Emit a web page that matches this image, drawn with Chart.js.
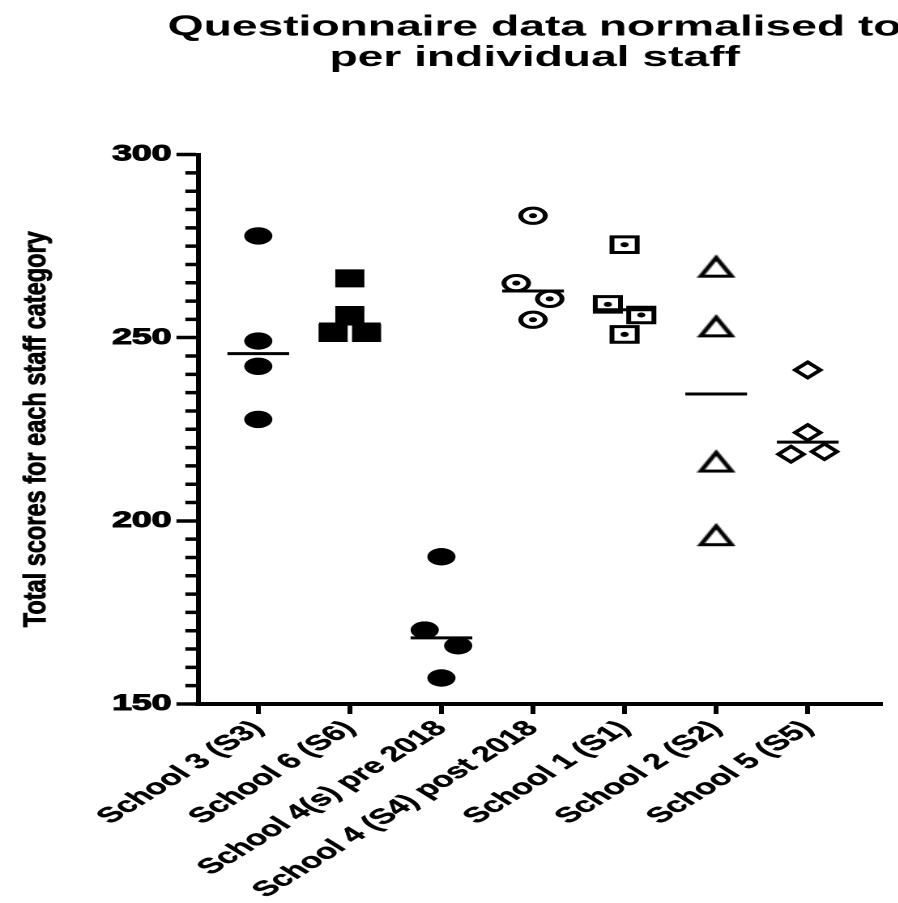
<!DOCTYPE html>
<html>
<head>
<meta charset="utf-8">
<script src="https://cdn.jsdelivr.net/npm/chart.js@4/dist/chart.umd.min.js"></script>
<style>
  html, body { margin: 0; padding: 0; background: #fff; overflow: hidden; width: 898px; height: 903px; }
  /* the plot is laid out narrow and widened horizontally */
  #wrap { position: absolute; left: 0; top: 0; width: 560px; height: 903px;
          transform: scaleX(1.62); transform-origin: 0 0; }
</style>
</head>
<body>
<div id="wrap"><canvas id="c"></canvas></div>
<script>
// ---- data ----
const categories = ['School 3 (S3)', 'School 6 (S6)', 'School 4(s) pre 2018',
  'School 4 (S4) post 2018', 'School 1 (S1)', 'School 2 (S2)', 'School 5 (S5)'];
const school3 = [277.8, 249.1, 242.2, 227.7];
const school6 = [266.2, 256.2, 251.3, 251.3];
const school4Pre = [190.2, 170.2, 165.9, 157.1];
const school4Post = [283.3, 264.9, 260.6, 254.9];
const school1 = [275.4, 259.1, 256.2, 250.9];
const school2 = [269.4, 253.1, 216.2, 196.1];
const school5 = [241.2, 224.1, 218.2, 218.9];
const titleLines = ['Questionnaire data normalised to', 'per individual staff'];
const yAxisTitle = 'Total scores for each staff category';
const yMin = 150, yMax = 300, majorStep = 50, minorStep = 5;

const STRETCH = 1.62;          // horizontal widening applied by CSS
const TITLE_CENTER = 330;      // horizontal centre of the title block
const FONT = "'Liberation Sans', Arial, sans-serif";

// ---- helpers ----
function median(vals) {
  const s = [...vals].sort((a, b) => a - b);
  const m = s.length / 2;
  return s.length % 2 ? s[Math.floor(m)] : (s[m - 1] + s[m]) / 2;
}
// spread points that would overlap side by side (column scatter)
function columnPoints(vals, idx) {
  const order = vals.map((v, i) => i).sort((a, b) => vals[b] - vals[a]);
  const groups = [];
  order.forEach(i => {
    const g = groups[groups.length - 1];
    if (g && Math.abs(vals[g[g.length - 1]] - vals[i]) < 4.5) g.push(i);
    else groups.push([i]);
  });
  const pts = [];
  const gap = 0.365;
  groups.forEach(g => {
    g.sort((a, b) => a - b);
    g.forEach((i, k) => pts.push({ x: idx + (k - (g.length - 1) / 2) * gap, y: vals[i] }));
  });
  return pts;
}
function medianLine(vals, idx) {
  const m = median(vals);
  return [{ x: idx - 0.337, y: m }, { x: idx + 0.337, y: m }];
}
function triangleStyle() {
  const c = document.createElement('canvas');
  c.width = 24; c.height = 26;
  const g = c.getContext('2d');
  g.lineWidth = 3; g.strokeStyle = '#000'; g.fillStyle = '#fff';
  g.beginPath(); g.moveTo(12, 4); g.lineTo(2.5, 22.5); g.lineTo(21.5, 22.5); g.closePath();
  g.fill(); g.stroke();
  return c;
}

const groups = [school3, school6, school4Pre, school4Post, school1, school2, school5];
const markerStyles = [
  { pointStyle: 'circle', pointRadius: 8.7, pointBackgroundColor: '#000', pointBorderWidth: 0 },
  { pointStyle: 'rect', pointRadius: 12.7, pointBackgroundColor: '#000', pointBorderWidth: 0 },
  { pointStyle: 'circle', pointRadius: 8.7, pointBackgroundColor: '#000', pointBorderWidth: 0 },
  { pointStyle: 'circle', pointRadius: 7.6, pointBackgroundColor: '#fff', pointBorderWidth: 3 },
  { pointStyle: 'rect', pointRadius: 11, pointBackgroundColor: '#fff', pointBorderWidth: 3 },
  { pointStyle: triangleStyle(), pointRadius: 12, pointBackgroundColor: '#fff', pointBorderWidth: 3 },
  { pointStyle: 'rectRot', pointRadius: 7.8, pointBackgroundColor: '#fff', pointBorderWidth: 3 }
];
const withDot = [false, false, false, true, true, false, false];

const datasets = [];
groups.forEach((vals, i) => {
  datasets.push(Object.assign({
    label: categories[i], data: columnPoints(vals, i), showLine: false,
    pointBorderColor: '#000', pointHoverRadius: 0, order: 2
  }, markerStyles[i]));
  if (withDot[i]) {
    datasets.push({
      label: categories[i] + ' centre', data: columnPoints(vals, i), showLine: false,
      pointStyle: 'circle', pointRadius: 2.5, pointBackgroundColor: '#000',
      pointBorderWidth: 0, order: 1
    });
  }
  datasets.push({
    label: categories[i] + ' median', data: medianLine(vals, i), showLine: true,
    borderColor: '#000', borderWidth: 3, pointRadius: 0, order: 0
  });
});

// centre the title block over the whole figure rather than the padded area
const titleCentre = {
  id: 'titleCentre',
  afterLayout(chart) {
    const tb = chart.titleBlock;
    if (!tb) return;
    const d = TITLE_CENTER - (tb.left + tb.right) / 2;
    tb.left += d; tb.right += d;
  }
};
// minor ticks on the value axis
const minorTicks = {
  id: 'minorTicks',
  afterDraw(chart) {
    const ys = chart.scales.y, ctx = chart.ctx, left = chart.chartArea.left;
    ctx.save();
    ctx.strokeStyle = '#000'; ctx.lineWidth = 3.5;
    ctx.beginPath();
    for (let v = yMin + minorStep; v < yMax; v += minorStep) {
      if (v % majorStep === 0) continue;
      const p = ys.getPixelForValue(v);
      ctx.moveTo(left - 8.1, p); ctx.lineTo(left, p);
    }
    ctx.stroke();
    ctx.restore();
  }
};
// value axis title, drawn upright relative to the widening
const yTitle = {
  id: 'yTitle',
  afterDraw(chart) {
    const ctx = chart.ctx, area = chart.chartArea;
    ctx.save();
    ctx.translate(45.5 / STRETCH, (area.top + area.bottom) / 2);
    ctx.scale(1 / STRETCH, 1);
    ctx.rotate(-Math.PI / 2);
    ctx.font = "bold 32px 'Liberation Sans Narrow', 'Liberation Sans', Arial, sans-serif";
    const w = ctx.measureText(yAxisTitle).width;
    ctx.scale(396 / w, 1);
    ctx.fillStyle = '#000';
    ctx.strokeStyle = '#000';
    ctx.lineWidth = 0.9;
    ctx.textAlign = 'center';
    ctx.textBaseline = 'alphabetic';
    ctx.fillText(yAxisTitle, 0, 0);
    ctx.strokeText(yAxisTitle, 0, 0);
    ctx.restore();
  }
};

new Chart(document.getElementById('c'), {
  type: 'scatter',
  data: { datasets },
  options: {
    responsive: true,
    maintainAspectRatio: false,
    devicePixelRatio: 2,
    animation: false,
    layout: { autoPadding: false, padding: { left: 0, right: 15.6, top: 0, bottom: 0 } },
    plugins: {
      legend: { display: false },
      tooltip: { enabled: false },
      title: {
        display: true, text: titleLines, color: '#000',
        font: { family: FONT, weight: 'bold', size: 28.5, lineHeight: 1.07 },
        padding: { top: 12.4, bottom: 81.2 }
      }
    },
    scales: {
      x: {
        type: 'linear', min: -0.653, max: 6.81,
        afterBuildTicks: (s) => { s.ticks = categories.map((c, i) => ({ value: i })); },
        afterFit: (s) => { s.height = 199; s.paddingLeft = 0; s.paddingRight = 0; },
        ticks: {
          autoSkip: false, minRotation: 45, maxRotation: 45, padding: 2,
          color: '#000', font: { family: FONT, weight: 'bold', size: 21.3 },
          textStrokeColor: '#000', textStrokeWidth: 0.4,
          callback: (v) => categories[v]
        },
        grid: { drawOnChartArea: false, tickLength: 10, tickWidth: 3, tickColor: '#000' },
        border: { display: true, width: 4, color: '#000' }
      },
      y: {
        min: yMin, max: yMax,
        afterFit: (s) => { s.width = 122.5; },
        ticks: {
          stepSize: majorStep, padding: 3, color: '#000',
          font: { family: FONT, weight: 'bold', size: 22 },
          textStrokeColor: '#000', textStrokeWidth: 1
        },
        grid: { drawOnChartArea: false, tickLength: 13.6, tickWidth: 3.5, tickColor: '#000' },
        border: { display: true, width: 3, color: '#000' }
      }
    }
  },
  plugins: [titleCentre, minorTicks, yTitle]
});
</script>
</body>
</html>
